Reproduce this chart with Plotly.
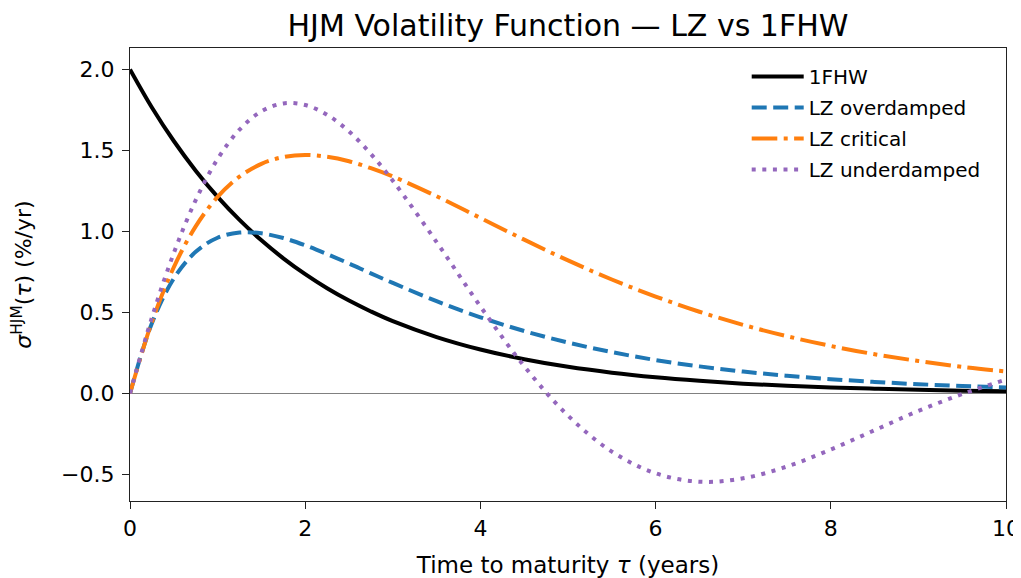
import plotly.graph_objects as go

# Time to maturity (years)
tau = [0, 0.25, 0.5, 0.75, 1, 1.25, 1.5, 1.75, 2, 2.25, 2.5, 2.75, 3, 3.5, 4,
       4.5, 5, 5.5, 6, 6.5, 7, 7.5, 8, 8.5, 9, 9.5, 10]

# Volatility values (%/yr)
hw1f = [2.00, 1.765, 1.558, 1.375, 1.213, 1.071, 0.945, 0.834, 0.736, 0.649, 0.573,
        0.506, 0.446, 0.348, 0.271, 0.211, 0.164, 0.128, 0.100, 0.078, 0.060, 0.047,
        0.037, 0.029, 0.022, 0.017, 0.013]
lz_over = [0, 0.433, 0.709, 0.874, 0.961, 0.993, 0.988, 0.959, 0.914, 0.860, 0.802,
           0.741, 0.682, 0.569, 0.470, 0.385, 0.314, 0.255, 0.206, 0.167, 0.135, 0.109,
           0.088, 0.071, 0.057, 0.046, 0.037]
lz_crit = [0, 0.441, 0.779, 1.031, 1.213, 1.338, 1.417, 1.459, 1.472, 1.461, 1.433,
           1.390, 1.339, 1.217, 1.083, 0.949, 0.821, 0.703, 0.598, 0.504, 0.423, 0.353,
           0.293, 0.242, 0.200, 0.164, 0.135]
lz_under = [0, 0.468, 0.866, 1.193, 1.447, 1.628, 1.741, 1.790, 1.780, 1.720, 1.617,
            1.478, 1.313, 0.934, 0.537, 0.168, -0.137, -0.359, -0.493, -0.545, -0.524,
            -0.451, -0.346, -0.227, -0.108, -0.004, 0.085]

names = ["1FHW", "LZ overdamped", "LZ critical", "LZ underdamped"]
series = [hw1f, lz_over, lz_crit, lz_under]
colors = ["#000000", "#1f77b4", "#ff7f0e", "#9467bd"]
dashes = ["solid", "15px,6.5px", "25.6px,6.4px,4px,6.4px", "4px,6.6px"]

FONT = "DejaVu Sans"

fig = go.Figure()
for i, (name, ys, c, d) in enumerate(zip(names, series, colors, dashes)):
    fig.add_trace(go.Scatter(
        x=tau, y=ys, mode="lines", name=name, legendgroup=f"g{i}",
        line=dict(color=c, width=4, dash=d, shape="spline", smoothing=1.0),
    ))

# The page body adds an 8px offset; the figure is sized to fill the rest of the window
fig.update_layout(
    width=1013, height=570,
    margin=dict(l=122, r=15, t=40, b=77, autoexpand=False),
    paper_bgcolor="white", plot_bgcolor="white",
    font=dict(family=FONT, size=22, color="black"),
    title=dict(text="HJM Volatility Function — LZ vs 1FHW",
               x=0.5, xref="paper", y=1 - 17 / 570, yref="container",
               xanchor="center", yanchor="middle", automargin=False,
               font=dict(family=FONT, size=30, color="black")),
    showlegend=True,
    legend=dict(x=0.704, y=0.980, xanchor="left", yanchor="top",
                bgcolor="rgba(255,255,255,0)", borderwidth=0,
                font=dict(family=FONT, size=20, color="black"),
                itemwidth=52, tracegroupgap=2),
)

fig.update_xaxes(
    range=[0, 10], tick0=0, dtick=2, showgrid=False, zeroline=False,
    showline=True, linecolor="#222", linewidth=1.4, mirror=True,
    ticks="outside", ticklen=7, tickwidth=1.4, tickcolor="#222",
    tickfont=dict(family=FONT, size=22), automargin=False,
    title=dict(text="Time to maturity <i>τ</i> (years)",
               font=dict(family=FONT, size=23), standoff=19),
)
fig.update_yaxes(
    range=[-0.664, 2.132], tickvals=[-0.5, 0, 0.5, 1.0, 1.5, 2.0], tickformat=".1f",
    showgrid=False, zeroline=True, zerolinecolor="#808080", zerolinewidth=1,
    showline=True, linecolor="#222", linewidth=1.4, mirror=True,
    ticks="outside", ticklen=7, tickwidth=1.4, tickcolor="#222",
    tickfont=dict(family=FONT, size=22), automargin=False, ticklabelstandoff=3,
    title=dict(text="<i>σ</i><sup>HJM</sup>(<i>τ</i>) (%/yr)",
               font=dict(family=FONT, size=22), standoff=24),
)

fig.write_html("out.html")
